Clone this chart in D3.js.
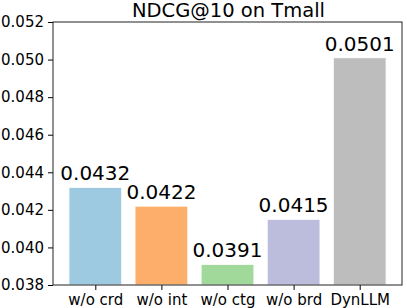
<!DOCTYPE html>
<html>
<head>
<meta charset="utf-8">
<script src="https://cdn.jsdelivr.net/npm/d3@7"></script>
<style>
  body { margin: 0; background: #fff; }
  text { font-family: "DejaVu Sans", sans-serif; }
</style>
</head>
<body>
<div id="chart"></div>
<script>
var categories = ["w/o crd", "w/o int", "w/o ctg", "w/o brd", "DynLLM"];
var values = [0.0432, 0.0422, 0.0391, 0.0415, 0.0501];
var colors = ["#9ecae1", "#fdae6b", "#a1d99b", "#bcbddc", "#bdbdbd"];
var yTicks = [0.038, 0.040, 0.042, 0.044, 0.046, 0.048, 0.050, 0.052];
var title = "NDCG@10 on Tmall";

var width = 407, height = 308;
var plotLeft = 53, plotRight = 402, plotTop = 22, plotBottom = 285;

var svg = d3.select("#chart").append("svg")
            .attr("width", width)
            .attr("height", height);

var x = d3.scaleLinear().domain([-0.64, 4.64]).range([plotLeft, plotRight]);
var y = d3.scaleLinear().domain([0.038, 0.052]).range([plotBottom, plotTop]);
var barW = x(0.8) - x(0);

// bars
svg.selectAll("rect.bar")
   .data(values)
   .enter()
   .append("rect")
   .attr("class", "bar")
   .attr("x", function(d, i) { return x(i) - barW / 2; })
   .attr("y", function(d) { return y(d); })
   .attr("width", barW)
   .attr("height", function(d) { return plotBottom - y(d); })
   .attr("fill", function(d, i) { return colors[i]; })
   .attr("stroke", "#fff")
   .attr("stroke-width", 1);

// value labels
svg.selectAll("text.val")
   .data(values)
   .enter()
   .append("text")
   .attr("class", "val")
   .attr("x", function(d, i) { return x(i); })
   .attr("y", function(d) { return y(d) - 7; })
   .attr("text-anchor", "middle")
   .attr("font-size", "20px")
   .text(function(d) { return d.toFixed(4); });

// axes
var yAxis = d3.axisLeft(y).tickValues(yTicks).tickFormat(d3.format(".3f")).tickSize(5).tickPadding(4);
var gy = svg.append("g").attr("transform", "translate(" + plotLeft + ",0)").call(yAxis);
gy.selectAll("text").attr("font-size", "15px").attr("fill", "#000").style("font-family", "DejaVu Sans");
gy.select(".domain").remove();

var xAxis = d3.axisBottom(x).tickValues(d3.range(categories.length))
              .tickFormat(function(d) { return categories[d]; }).tickSize(5).tickPadding(4);
var gx = svg.append("g").attr("transform", "translate(0," + plotBottom + ")").call(xAxis);
gx.selectAll("text").attr("font-size", "15px").attr("fill", "#000").style("font-family", "DejaVu Sans");
gx.select(".domain").remove();

// frame
svg.append("rect")
   .attr("x", plotLeft).attr("y", plotTop)
   .attr("width", plotRight - plotLeft).attr("height", plotBottom - plotTop)
   .attr("fill", "none").attr("stroke", "#222").attr("stroke-width", 1);

svg.append("text")
   .attr("x", (plotLeft + plotRight) / 2 + 1)
   .attr("y", 17)
   .attr("text-anchor", "middle")
   .attr("font-size", "19.5px")
   .text(title);
</script>
</body>
</html>
